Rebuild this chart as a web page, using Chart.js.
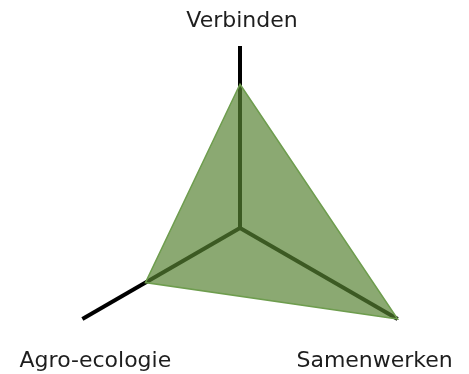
<!DOCTYPE html>
<html>
<head>
<meta charset="utf-8">
<script src="https://cdn.jsdelivr.net/npm/chart.js@4"></script>
<style>
  html, body { margin: 0; padding: 0; background: #fff; overflow: hidden; }
  #wrap { width: 469px; height: 374px; overflow: hidden; }
  canvas { display: block; }
</style>
</head>
<body>
<div id="wrap">
  <!-- taller than the view so the centre of the radar sits low, as in the original -->
  <canvas id="radar" width="469" height="456"></canvas>
</div>
<script>
const axes = ['Verbinden', 'Samenwerken', 'Agro-ecologie'];
const scores = [7.9, 10, 6];
const scaleMax = 10;

// label offsets from the axis ends (px), text baseline
const labelShift = [[2, -19], [-23, 48], [13, 48]];

const axisLabels = {
  id: 'axisLabels',
  afterDatasetsDraw(chart) {
    const r = chart.scales.r;
    const ctx = chart.ctx;
    ctx.save();
    ctx.font = '22px "DejaVu Sans"';
    ctx.fillStyle = '#1e1e1e';
    ctx.textAlign = 'center';
    ctx.textBaseline = 'alphabetic';
    axes.forEach((name, i) => {
      const p = r.getPointPosition(i, r.drawingArea);
      ctx.fillText(name, p.x + labelShift[i][0], p.y + labelShift[i][1]);
    });
    ctx.restore();
  }
};

const ctx = document.getElementById('radar').getContext('2d');
const chart = new Chart(ctx, {
  type: 'radar',
  data: {
    labels: axes,
    datasets: [{
      data: scores,
      backgroundColor: 'rgba(87, 130, 51, 0.69)',
      borderColor: '#6e9d4e',
      borderWidth: 1.5,
      pointRadius: 0,
      pointHoverRadius: 0,
      fill: true
    }]
  },
  options: {
    responsive: false,
    devicePixelRatio: 1,
    animation: false,
    layout: { padding: { left: 58, right: 47, top: 0, bottom: 0 } },
    plugins: {
      legend: { display: false },
      tooltip: { enabled: false }
    },
    scales: {
      r: {
        min: 0,
        max: scaleMax,
        ticks: { display: false },
        grid: { display: false },
        angleLines: { color: '#000', lineWidth: 4 },
        pointLabels: { display: false }
      }
    }
  },
  plugins: [axisLabels]
});
</script>
</body>
</html>
